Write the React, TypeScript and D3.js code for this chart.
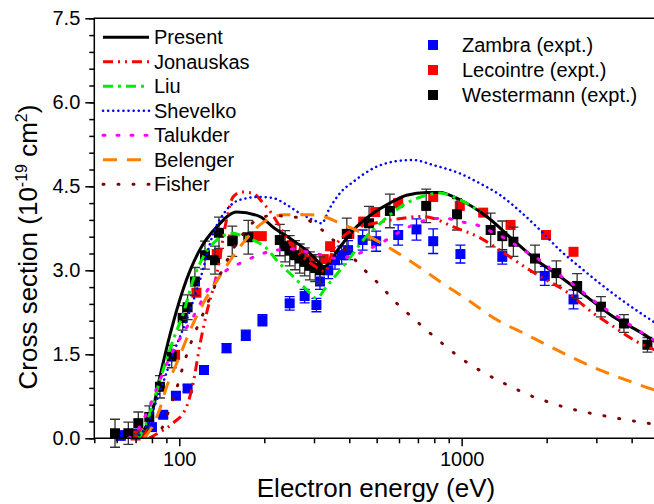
import React, { useEffect, useRef } from 'react';
import * as d3 from 'd3';

// theory curves: energy (eV) and cross section (1e-19 cm^2)
const presentE = [72, 76, 80, 85.4, 92.7, 103, 118, 136, 160, 193, 215, 250, 283, 315, 324, 371, 425, 486, 557, 638, 751, 837, 985, 1226, 1523, 1843, 2228, 2771, 3443, 4277, 5000];
const presentCS = [0.02, 0.2, 0.45, 1.1, 1.85, 2.65, 3.36, 3.78, 4.04, 3.96, 3.77, 3.55, 3.35, 3.12, 3.06, 3.42, 3.78, 4.02, 4.2, 4.34, 4.39, 4.39, 4.26, 3.96, 3.54, 3.18, 2.89, 2.53, 2.17, 1.9, 1.68];

const jonauskasE = [78, 86, 95, 106, 112, 118, 125, 136, 147, 155, 166, 182, 198, 212, 227, 246, 283, 319, 328, 350, 380, 412, 500, 600, 711, 791, 930, 1163, 1328, 1746, 1895, 2347, 2915, 3436, 4265, 5000];
const jonauskasCS = [0.0, 0.12, 0.27, 0.56, 0.99, 1.64, 2.24, 2.95, 3.9, 4.31, 4.4, 4.38, 4.2, 4.02, 3.78, 3.49, 3.18, 3.0, 2.97, 3.36, 3.6, 3.72, 3.85, 3.92, 3.96, 3.93, 3.78, 3.58, 3.4, 3.0, 2.89, 2.62, 2.24, 2.0, 1.7, 1.55];

const liuE = [72, 78.8, 85.4, 95.2, 103.3, 112, 121.6, 135.7, 155, 164, 183, 204, 221, 253, 283, 306, 332, 371, 413, 448, 500, 557, 638, 751, 837, 985, 1163];
const liuCS = [0.0, 0.45, 1.04, 1.76, 2.23, 2.83, 3.24, 3.54, 3.66, 3.63, 3.54, 3.39, 3.18, 2.89, 2.65, 2.5, 2.71, 3.0, 3.3, 3.54, 3.78, 3.99, 4.2, 4.34, 4.38, 4.26, 4.05];

const shevelkoE = [70, 76, 83.2, 95.3, 106, 118.4, 132, 147, 164, 193, 215, 240, 267, 298, 319, 341, 371, 413, 486, 572, 673, 793, 985, 1163, 1372, 1613, 1895, 2228, 2618, 3080, 3621, 4500, 5000];
const shevelkoCS = [0.0, 0.2, 0.68, 1.52, 2.11, 2.83, 3.66, 4.08, 4.26, 4.31, 4.29, 4.17, 4.02, 3.9, 3.84, 4.11, 4.38, 4.58, 4.82, 4.94, 4.97, 4.88, 4.73, 4.55, 4.34, 4.05, 3.72, 3.36, 3.06, 2.77, 2.5, 2.17, 2.02];

const talukderE = [66, 70, 76.6, 85.4, 92.7, 103.3, 112, 128.4, 147, 168.5, 190, 215, 246, 283, 324, 361, 404, 460, 528, 596, 673, 770, 870, 985, 1131, 1275, 1459, 1652, 1895, 2098, 2403, 3080, 3525, 4500, 5000];
const talukderCS = [0.0, 0.1, 0.45, 1.04, 1.46, 1.88, 2.17, 2.71, 3.0, 3.15, 3.27, 3.35, 3.38, 3.33, 3.27, 3.21, 3.25, 3.36, 3.51, 3.67, 3.81, 3.91, 3.93, 3.87, 3.81, 3.69, 3.54, 3.36, 3.18, 3.0, 2.8, 2.38, 2.19, 1.84, 1.7];

const belengerE = [75, 80, 85, 90.2, 97.9, 112, 121.6, 139, 164, 193, 234, 290, 324, 371, 460, 572, 692, 837, 1074, 1328, 1652, 2053, 2490, 3080, 3835, 4643, 5000];
const belengerCS = [0.0, 0.2, 0.5, 0.92, 1.34, 2.05, 2.41, 2.89, 3.42, 3.81, 3.99, 3.99, 3.96, 3.84, 3.63, 3.36, 3.09, 2.8, 2.44, 2.12, 1.88, 1.64, 1.43, 1.22, 1.04, 0.89, 0.84];

const fisherE = [80, 85, 92, 98, 104, 112, 121.6, 143, 164, 188, 215, 240, 275, 315, 351, 404, 454, 513, 581, 655, 740, 837, 1000, 1200, 1403, 1585, 1796, 2053, 2300, 2618, 2985, 3372, 3835, 4430, 5000];
const fisherCS = [0.0, 0.1, 0.5, 0.9, 1.35, 1.81, 2.23, 3.04, 3.57, 3.9, 3.98, 3.96, 3.93, 3.75, 3.54, 3.27, 3.0, 2.74, 2.44, 2.2, 1.96, 1.73, 1.42, 1.17, 0.99, 0.86, 0.74, 0.64, 0.56, 0.49, 0.43, 0.38, 0.33, 0.28, 0.24];

// experiments
const zambraE = [62, 70, 80, 87.7, 97.3, 107, 122.3, 147, 172, 197, 246, 278, 306, 315, 337, 356, 376, 396, 446, 498, 596, 692, 793, 990, 1393, 1970, 2490];
const zambraCS = [0.05, 0.08, 0.2, 0.42, 0.76, 0.89, 1.22, 1.61, 1.84, 2.11, 2.41, 2.54, 2.38, 2.8, 3.0, 3.18, 3.27, 3.36, 3.54, 3.52, 3.63, 3.73, 3.52, 3.29, 3.24, 2.9, 2.48];
const zambraErr = [0.08, 0.08, 0.06, 0.05, 0.06, 0.06, 0.07, 0.08, 0.09, 0.1, 0.12, 0.12, 0.12, 0.14, 0.15, 0.16, 0.16, 0.17, 0.18, 0.18, 0.18, 0.19, 0.22, 0.16, 0.13, 0.17, 0.17];

const lecointreE = [70, 74, 96.6, 115, 135.7, 155, 182, 196, 250, 275, 294, 325, 342, 400, 448, 494, 596, 793, 985, 1192, 1490, 1990, 2490];
const lecointreCS = [0.05, 0.09, 1.49, 2.6, 3.29, 3.55, 3.61, 3.61, 3.45, 3.3, 3.18, 3.2, 3.43, 3.65, 3.87, 4.04, 4.2, 4.31, 4.15, 4.03, 3.81, 3.63, 3.33];

const westermannE = [59.2, 66, 71.6, 78.3, 85.4, 94, 102.8, 107, 113.6, 123.3, 133.8, 138.2, 154, 175.5, 227, 237, 246, 257, 267, 278, 290, 303, 315, 392, 470, 557, 749, 963, 1267, 1393, 1525, 1819, 2165, 2565, 3114, 3757, 4550];
const westermannCS = [0.09, 0.09, 0.27, 0.38, 0.92, 1.46, 2.15, 2.34, 2.8, 3.27, 3.18, 3.67, 3.52, 3.59, 3.54, 3.43, 3.35, 3.27, 3.21, 3.15, 3.08, 3.04, 3.0, 3.65, 3.84, 4.06, 4.15, 4.0, 3.72, 3.61, 3.51, 3.21, 2.95, 2.72, 2.35, 2.05, 1.67];
const westermannErr = [0.25, 0.2, 0.2, 0.2, 0.2, 0.2, 0.22, 0.22, 0.25, 0.25, 0.25, 0.28, 0.27, 0.3, 0.28, 0.28, 0.27, 0.26, 0.26, 0.25, 0.25, 0.24, 0.24, 0.28, 0.3, 0.3, 0.3, 0.28, 0.3, 0.27, 0.26, 0.24, 0.22, 0.22, 0.18, 0.16, 0.13];

const xMajorTicks = [100, 1000];
const xMinorTicks = [50, 60, 70, 80, 90, 200, 300, 400, 500, 600, 700, 800, 900, 2000, 3000, 4000, 5000];
const yMajorTicks = [0, 1.5, 3.0, 4.5, 6.0, 7.5];

const curves = [
  { name: 'Present', e: presentE, cs: presentCS, color: '#000000', width: 3, dash: '', cap: 'butt' },
  { name: 'Jonauskas', e: jonauskasE, cs: jonauskasCS, color: '#ff0000', width: 3, dash: '10,5,2,5,2,5', cap: 'butt' },
  { name: 'Liu', e: liuE, cs: liuCS, color: '#00ee00', width: 3, dash: '10,5,3,5', cap: 'butt' },
  { name: 'Shevelko', e: shevelkoE, cs: shevelkoCS, color: '#0000ff', width: 2.5, dash: '0.1,5', cap: 'round' },
  { name: 'Talukder', e: talukderE, cs: talukderCS, color: '#ff00ff', width: 3, dash: '2,12', cap: 'round' },
  { name: 'Belenger', e: belengerE, cs: belengerCS, color: '#ff8000', width: 3, dash: '14,10', cap: 'butt' },
  { name: 'Fisher', e: fisherE, cs: fisherCS, color: '#800000', width: 3, dash: '1,14', cap: 'round' },
];

const expts = [
  { name: 'Zambra (expt.)', e: zambraE, cs: zambraCS, err: zambraErr, color: '#0000ff', errColor: '#0000ff' },
  { name: 'Lecointre (expt.)', e: lecointreE, cs: lecointreCS, err: null, color: '#ff0000', errColor: '#ff0000' },
  { name: 'Westermann (expt.)', e: westermannE, cs: westermannCS, err: westermannErr, color: '#000000', errColor: '#333333' },
];

const W = 654;
const H = 504;
const FONT = "'Liberation Sans', Arial, sans-serif";

export default function App() {
  const ref = useRef<SVGSVGElement>(null);

  useEffect(() => {
    const svg = d3.select(ref.current);
    svg.selectAll('*').remove();

    const x = d3.scaleLog().domain([50, 5000]).range([94.3, 659]);
    const y = d3.scaleLinear().domain([0, 7.5]).range([438.3, 18.3]);
    const left = 94.3, top = 18.3, bottom = 438.3;

    svg.append('defs').append('clipPath').attr('id', 'plotclip')
      .append('rect').attr('x', left).attr('y', top).attr('width', W - left).attr('height', bottom - top);

    // experimental points
    const pts = svg.append('g');
    expts.forEach(s => {
      s.e.forEach((e, i) => {
        const cx = x(e), cy = y(s.cs[i]);
        if (s.err) {
          const y0 = y(s.cs[i] - s.err[i]), y1 = y(s.cs[i] + s.err[i]);
          pts.append('path')
            .attr('d', `M${cx},${y0}V${y1}M${cx - 5},${y0}H${cx + 5}M${cx - 5},${y1}H${cx + 5}`)
            .attr('stroke', s.errColor).attr('stroke-width', 1.3).attr('fill', 'none');
        }
        pts.append('rect').attr('x', cx - 5).attr('y', cy - 5).attr('width', 10).attr('height', 10)
          .attr('fill', s.color);
      });
    });

    // theory curves
    const line = d3.line<[number, number]>()
      .x(d => x(d[0])).y(d => y(d[1]))
      .curve(d3.curveMonotoneX);
    const cg = svg.append('g').attr('clip-path', 'url(#plotclip)');
    curves.forEach(c => {
      cg.append('path')
        .attr('d', line(c.e.map((e, i) => [e, c.cs[i]] as [number, number])))
        .attr('fill', 'none').attr('stroke', c.color).attr('stroke-width', c.width)
        .attr('stroke-dasharray', c.dash).attr('stroke-linecap', c.cap);
    });

    // axes
    const ax = svg.append('g').attr('font-family', FONT);
    const xMinor = ax.append('g').attr('transform', `translate(0,${bottom})`)
      .call(d3.axisBottom(x).tickValues(xMinorTicks).tickSize(5).tickFormat(() => ''));
    const xMajor = ax.append('g').attr('transform', `translate(0,${bottom})`)
      .call(d3.axisBottom(x).tickValues(xMajorTicks).tickSize(8).tickPadding(6).tickFormat(d3.format('d')));
    const yMinor = ax.append('g').attr('transform', `translate(${left},0)`)
      .call(d3.axisLeft(y).tickValues(d3.range(0, 26).map(i => i * 0.3)).tickSize(5).tickFormat(() => ''));
    const yMajor = ax.append('g').attr('transform', `translate(${left},0)`)
      .call(d3.axisLeft(y).tickValues(yMajorTicks).tickSize(9).tickPadding(5).tickFormat(d3.format('.1f')));
    [xMinor, xMajor, yMinor, yMajor].forEach(g => {
      g.select('.domain').remove();
      g.selectAll('line').attr('stroke', '#000').attr('stroke-width', 1.5);
      g.selectAll('text').attr('font-size', 20).attr('font-family', FONT).attr('fill', '#000');
    });
    ax.append('path')
      .attr('d', `M${W},${top}H${left}V${bottom}H${W}`)
      .attr('fill', 'none').attr('stroke', '#000').attr('stroke-width', 1.5);

    // axis titles
    svg.append('text').attr('x', 376).attr('y', 497).attr('text-anchor', 'middle')
      .attr('font-family', FONT).attr('font-size', 26).text('Electron energy (eV)');
    const yt = svg.append('text').attr('transform', 'translate(37,247) rotate(-90)')
      .attr('text-anchor', 'middle').attr('font-family', FONT).attr('font-size', 26);
    yt.append('tspan').text('Cross section (10');
    yt.append('tspan').attr('font-size', 16).attr('dy', -10).text('-19');
    yt.append('tspan').attr('dy', 10).text(' cm');
    yt.append('tspan').attr('font-size', 16).attr('dy', -10).text('2');
    yt.append('tspan').attr('dy', 10).text(')');

    // legend, curves
    const lg = svg.append('g').attr('font-family', FONT).attr('font-size', 20);
    curves.forEach((c, i) => {
      const ly = 37.3 + i * 24.5;
      lg.append('line').attr('x1', 103).attr('x2', 149).attr('y1', ly).attr('y2', ly)
        .attr('stroke', c.color).attr('stroke-width', c.width)
        .attr('stroke-dasharray', c.dash).attr('stroke-linecap', c.cap);
      lg.append('text').attr('x', 154).attr('y', ly).attr('dy', '0.35em').text(c.name);
    });
    // legend, experiments
    expts.forEach((s, i) => {
      const ly = 45 + i * 25;
      lg.append('rect').attr('x', 428).attr('y', ly - 5).attr('width', 10).attr('height', 10).attr('fill', s.color);
      lg.append('text').attr('x', 462).attr('y', ly).attr('dy', '0.35em').text(s.name);
    });
  }, []);

  return (
    <svg ref={ref} width={W} height={H}
      style={{ position: 'absolute', left: 0, top: 0, background: '#fff' }} />
  );
}
